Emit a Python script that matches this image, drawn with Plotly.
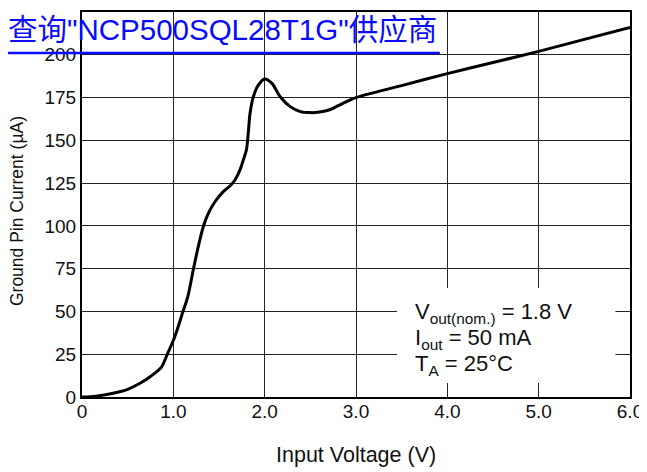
import plotly.graph_objects as go

# Data
vin = [0, 0.15, 0.34, 0.5, 0.635, 0.75, 0.87, 0.93, 1.0, 1.04, 1.1, 1.16, 1.22, 1.273,
       1.328, 1.383, 1.456, 1.547, 1.62, 1.675, 1.73, 1.766, 1.80, 1.82, 1.84, 1.876, 1.93,
       2.0, 2.08, 2.17, 2.28, 2.39, 2.5, 2.6, 2.72, 2.85, 3.0, 3.5, 4.0, 4.5, 5.0,
       5.5, 6.0]
ignd = [0, 0.5, 2.2, 4.5, 8, 12, 17.5, 24.5, 33, 39, 49, 59, 74.8, 87.9,
        99.5, 107.3, 114.1, 120, 123.3, 126.8, 132.7, 138.5, 144.4, 154, 165.8, 175.5, 182.3,
        185.9, 183.3, 175.5, 169.7, 166.8, 166.2, 166.5, 168, 171.5, 175, 182, 189, 195.5, 202,
        209, 216]

x_ticks = [0, 1, 2, 3, 4, 5, 6]
x_ticklabels = ["0", "1.0", "2.0", "3.0", "4.0", "5.0", "6.0"]
y_ticks = [0, 25, 50, 75, 100, 125, 150, 175, 200, 225]

x_title = "Input Voltage (V)"
y_title = "Ground Pin Current (\u00b5A)"
cond_lines = ["V<sub>out(nom.)</sub> = 1.8 V", "I<sub>out</sub> = 50 mA", "T<sub>A</sub> = 25\u00b0C"]
link_text = "查询\"NCP500SQL28T1G\"供应商"

FONT = "Liberation Sans, Arial, Noto Sans CJK SC, sans-serif"

fig = go.Figure()
fig.add_trace(go.Scatter(x=vin, y=ignd, mode="lines",
                         line=dict(color="black", width=3, shape="spline", smoothing=0.8),
                         showlegend=False, hoverinfo="skip"))

axis_common = dict(showgrid=True, gridcolor="#222", gridwidth=1.2,
                   showline=True, linecolor="black", linewidth=2, mirror=True,
                   ticks="", zeroline=False, automargin=False,
                   tickfont=dict(family=FONT, size=19, color="#111"))

fig.update_xaxes(range=[0, 6], tickvals=x_ticks, ticktext=x_ticklabels,
                 ticklabelstandoff=-4, **axis_common)
fig.update_yaxes(range=[0, 225], tickvals=y_ticks, **axis_common)

# axis titles placed as annotations for exact positioning
fig.add_annotation(x=0.5, y=-0.1506, xref="paper", yref="paper", text=x_title,
                   showarrow=False, xanchor="center", yanchor="middle",
                   font=dict(family=FONT, size=21.5, color="#111"))
fig.add_annotation(x=-0.1186, y=0.483, xref="paper", yref="paper", text=y_title,
                   showarrow=False, xanchor="center", yanchor="middle", textangle=-90,
                   font=dict(family=FONT, size=17.5, color="#111"))

# white box behind the conditions text (covers gridlines)
fig.add_shape(type="rect", xref="x", yref="y", x0=3.45, x1=5.84, y0=8.2, y1=63.7,
              fillcolor="white", line=dict(width=0), layer="between")

cond_y = [49, 34, 18.5]
for t, yy in zip(cond_lines, cond_y):
    fig.add_annotation(x=3.62, y=yy, xref="x", yref="y", text=t, showarrow=False,
                       xanchor="left", yanchor="middle",
                       font=dict(family=FONT, size=22, color="#111"))

# overlay link text
fig.add_annotation(x=-0.139, y=0.955, xref="paper", yref="paper",
                   text=link_text, showarrow=False,
                   xanchor="left", yanchor="middle",
                   font=dict(family="Liberation Sans, Noto Sans CJK SC, sans-serif", size=29.5, color="#0a0aff"))
fig.add_shape(type="line", xref="paper", yref="paper", x0=-0.1387, x1=0.653, y0=0.8935, y1=0.8935,
              line=dict(color="#0a0aff", width=2.5), layer="above")

# page body adds an 8px offset; margins compensate so the plot area lands at 82..630 x 12..397
fig.update_layout(width=647, height=472, margin=dict(l=74, r=25, t=4, b=83),
                  plot_bgcolor="white", paper_bgcolor="white")

fig.write_html("out.html")
